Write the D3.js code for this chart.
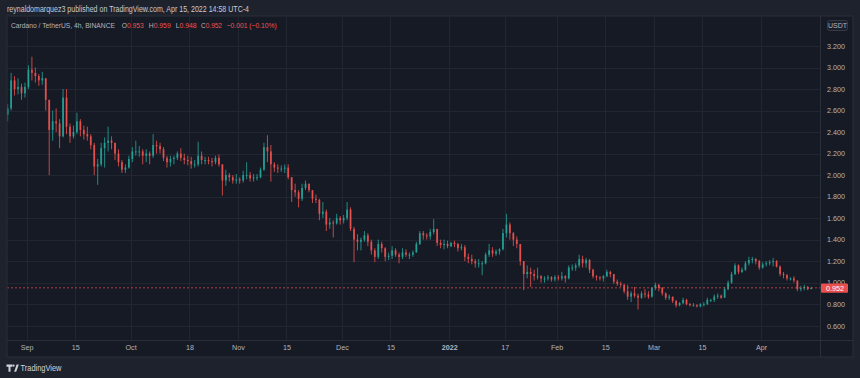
<!DOCTYPE html>
<html><head><meta charset="utf-8">
<script src="https://cdn.jsdelivr.net/npm/d3@7"></script>
<style>
html,body{margin:0;padding:0;background:#1e222d;}
svg{display:block;}
text{font-family:"Liberation Sans",Arial,sans-serif;}
</style></head><body>
<svg id="c" width="860" height="378"></svg>
<script>
// ---------- DATA (daily candles; open = previous close) ----------
const startDate = "2021-08-26";
const firstOpen = 2.56;
const highs = [
 2.66,2.95,2.92,2.90,2.85,2.86,
 3.02,3.10,3.00,2.94,2.96,2.90,2.70,2.60,2.62,2.52,2.80,2.80,2.48,2.46,2.58,2.52,2.46,2.45,2.38,2.30,2.15,2.30,2.35,2.45,2.36,2.30,2.24,2.14,2.10,2.18,
 2.26,2.32,2.27,2.24,2.24,2.22,2.38,2.32,2.30,2.26,2.18,2.18,2.18,2.22,2.25,2.20,2.18,2.17,2.14,2.31,2.22,2.17,2.17,2.16,2.18,2.19,2.10,2.05,2.02,2.00,2.01,
 1.98,2.04,2.12,2.03,2.01,2.01,2.07,2.30,2.37,2.28,2.12,2.10,2.09,2.10,2.10,1.98,1.92,1.86,1.92,1.95,1.92,1.86,1.82,1.78,1.75,1.68,1.60,1.58,1.64,1.62,
 1.63,1.75,1.70,1.52,1.45,1.42,1.48,1.46,1.40,1.32,1.40,1.38,1.33,1.28,1.34,1.32,1.28,1.32,1.31,1.28,1.30,1.38,1.48,1.48,1.46,1.50,1.59,1.50,1.40,1.40,1.39,
 1.38,1.39,1.37,1.36,1.35,1.27,1.26,1.22,1.22,1.20,1.28,1.36,1.33,1.31,1.32,1.50,1.64,1.56,1.47,1.43,1.36,1.20,1.16,1.14,1.12,1.14,1.07,1.06,1.07,1.06,1.07,
 1.07,1.10,1.07,1.16,1.17,1.18,1.26,1.25,1.23,1.22,1.13,1.07,1.06,1.07,1.12,1.11,1.08,1.03,1.01,0.99,0.98,0.92,0.96,0.90,0.92,0.94,0.92,0.96,
 1.00,0.99,0.96,0.91,0.89,0.87,0.84,0.82,0.86,0.85,0.81,0.81,0.80,0.81,0.82,0.86,0.85,0.89,0.90,0.89,0.96,1.02,1.10,1.18,1.17,1.14,1.20,1.24,1.24,1.23,1.21,
 1.19,1.20,1.21,1.23,1.21,1.16,1.10,1.08,1.05,1.06,1.02,0.97,0.98,0.97,0.959
];
const lows = [
 2.50,2.60,2.74,2.75,2.70,2.72,
 2.80,2.88,2.86,2.83,2.84,2.60,2.00,2.32,2.40,2.25,2.35,2.38,2.30,2.34,2.38,2.36,2.33,2.32,2.24,2.00,1.91,2.08,2.07,2.22,2.24,2.14,2.08,2.02,2.02,2.06,
 2.12,2.18,2.17,2.10,2.12,2.10,2.16,2.20,2.20,2.13,2.07,2.08,2.10,2.14,2.13,2.10,2.09,2.06,2.07,2.08,2.10,2.10,2.10,2.08,2.10,2.08,1.81,1.90,1.94,1.92,1.92,
 1.92,1.93,1.96,1.94,1.94,1.95,1.97,2.04,2.12,1.94,2.03,2.02,2.03,2.02,1.96,1.75,1.80,1.70,1.76,1.86,1.84,1.74,1.74,1.58,1.60,1.48,1.50,1.42,1.54,1.54,
 1.55,1.58,1.48,1.19,1.30,1.30,1.38,1.34,1.26,1.19,1.22,1.28,1.20,1.21,1.22,1.24,1.18,1.22,1.24,1.22,1.24,1.28,1.35,1.40,1.40,1.40,1.45,1.34,1.32,1.31,1.32,
 1.33,1.33,1.29,1.30,1.20,1.18,1.17,1.14,1.14,1.07,1.17,1.24,1.24,1.25,1.26,1.30,1.42,1.40,1.34,1.32,1.16,0.93,1.04,0.96,1.02,1.03,1.00,1.00,1.02,1.01,1.01,
 1.02,1.02,1.00,1.03,1.11,1.11,1.14,1.14,1.14,1.09,1.04,1.02,1.02,1.01,1.05,1.05,0.99,0.97,0.96,0.90,0.84,0.82,0.86,0.75,0.85,0.86,0.85,0.86,
 0.93,0.92,0.88,0.84,0.84,0.81,0.77,0.78,0.80,0.79,0.78,0.78,0.77,0.77,0.78,0.79,0.82,0.82,0.85,0.85,0.86,0.93,0.99,1.07,1.08,1.09,1.11,1.16,1.18,1.17,1.12,
 1.13,1.15,1.16,1.15,1.14,1.06,1.04,1.02,1.02,1.00,0.92,0.92,0.93,0.93,0.940
];
const closes = [
 2.62,2.88,2.80,2.82,2.76,2.82,
 2.98,2.95,2.92,2.88,2.90,2.70,2.42,2.50,2.48,2.36,2.72,2.45,2.36,2.40,2.50,2.42,2.38,2.36,2.28,2.08,2.10,2.25,2.30,2.32,2.30,2.20,2.12,2.05,2.07,2.15,
 2.22,2.22,2.22,2.18,2.20,2.18,2.28,2.27,2.24,2.16,2.12,2.15,2.16,2.20,2.16,2.14,2.13,2.10,2.10,2.18,2.14,2.14,2.13,2.12,2.16,2.10,1.95,2.00,1.98,1.95,1.96,
 1.95,2.00,2.00,1.97,1.98,1.98,2.05,2.26,2.22,2.10,2.07,2.06,2.06,2.07,1.98,1.86,1.84,1.78,1.88,1.92,1.86,1.78,1.77,1.64,1.66,1.54,1.56,1.55,1.60,1.58,
 1.60,1.68,1.50,1.40,1.38,1.40,1.44,1.38,1.30,1.24,1.36,1.32,1.24,1.25,1.30,1.26,1.24,1.28,1.26,1.26,1.28,1.36,1.46,1.44,1.43,1.47,1.50,1.37,1.35,1.36,1.34,
 1.37,1.36,1.32,1.33,1.24,1.22,1.20,1.18,1.18,1.18,1.26,1.30,1.27,1.29,1.31,1.46,1.54,1.46,1.40,1.36,1.20,1.08,1.10,1.08,1.06,1.06,1.04,1.04,1.05,1.03,1.05,
 1.04,1.06,1.04,1.14,1.14,1.16,1.22,1.18,1.21,1.12,1.06,1.05,1.04,1.06,1.10,1.08,1.01,0.99,0.98,0.92,0.87,0.90,0.88,0.86,0.90,0.89,0.87,0.95,
 0.98,0.95,0.90,0.86,0.87,0.83,0.79,0.81,0.84,0.80,0.79,0.79,0.78,0.80,0.80,0.84,0.84,0.87,0.88,0.86,0.94,1.00,1.08,1.16,1.10,1.12,1.18,1.21,1.22,1.20,1.14,
 1.17,1.18,1.19,1.20,1.15,1.08,1.07,1.04,1.04,1.02,0.94,0.95,0.96,0.94,0.952
];
const priceTicks = [0.6,0.8,1.0,1.2,1.4,1.6,1.8,2.0,2.2,2.4,2.6,2.8,3.0,3.2];
const timeTickDates = ["2021-09-01","2021-09-15","2021-10-01","2021-10-18","2021-11-01","2021-11-15","2021-12-01","2021-12-15","2022-01-01","2022-01-17","2022-02-01","2022-02-15","2022-03-01","2022-03-15","2022-04-01"];
const timeTickLabels = ["Sep","15","Oct","18","Nov","15","Dec","15","2022","17","Feb","15","Mar","15","Apr"];
const lastO = 0.953, lastH = 0.959, lastL = 0.948, lastC = 0.952, lastChg = -0.001, lastPct = -0.10;
const headerText = "reynaldomarquez3 published on TradingView.com, Apr 15, 2022 14:58 UTC-4";
const symbolText = "Cardano / TetherUS, 4h, BINANCE";

// ---------- LAYOUT ----------
const W = 860, H = 378;
const P = {x0: 7, x1: 820.5, y0: 16, y1: 340, right: 853, bottom: 357};
const UP = "#26a69a", DOWN = "#ef5350";
const AXIS_TXT = "#b2b5be";

const parse = d3.utcParse("%Y-%m-%d");
const x = d3.scaleUtc().domain([parse("2021-09-01"), parse("2022-04-01")]).range([26.7, 761]);
const y = d3.scaleLinear().domain([0.6, 3.2]).range([325.7, 46]);

const start = parse(startDate);
const candles = closes.map((c, i) => ({
  t: d3.utcHour.offset(d3.utcDay.offset(start, i), 12),
  o: i === 0 ? firstOpen : closes[i - 1],
  h: highs[i], l: lows[i], c
}));

const svg = d3.select("#c");
svg.append("rect").attr("width", W).attr("height", H).attr("fill", "#1e222d");

// header
svg.append("text").attr("x", 7).attr("y", 12).attr("font-size", 8.5).attr("fill", "#c9ccd4")
  .attr("textLength", 242).attr("lengthAdjust", "spacingAndGlyphs").text(headerText);

// panel
svg.append("rect").attr("x", P.x0).attr("y", P.y0).attr("width", P.right - P.x0).attr("height", P.bottom - P.y0)
  .attr("fill", "#161a25").attr("stroke", "#2a2e39").attr("stroke-width", 1);

const defs = svg.append("defs");
defs.append("clipPath").attr("id", "plotclip").append("rect")
  .attr("x", P.x0 + 0.5).attr("y", P.y0 + 0.5).attr("width", P.x1 - P.x0 - 0.5).attr("height", P.y1 - P.y0 - 0.5);

// grid
const grid = svg.append("g").attr("stroke", "#222633").attr("stroke-width", 1).attr("shape-rendering", "crispEdges");
grid.selectAll("line.h").data(priceTicks).join("line").attr("class", "h")
  .attr("x1", P.x0).attr("x2", P.x1).attr("y1", d => Math.round(y(d)) + 0.5).attr("y2", d => Math.round(y(d)) + 0.5);
grid.selectAll("line.v").data(timeTickDates).join("line").attr("class", "v")
  .attr("x1", d => Math.round(x(parse(d))) + 0.5).attr("x2", d => Math.round(x(parse(d))) + 0.5)
  .attr("y1", P.y0).attr("y2", P.y1);

// separators
svg.append("line").attr("x1", P.x1).attr("x2", P.x1).attr("y1", P.y0).attr("y2", P.bottom).attr("stroke", "#2a2e39");
svg.append("line").attr("x1", P.x0).attr("x2", P.right).attr("y1", P.y1 + 0.5).attr("y2", P.y1 + 0.5).attr("stroke", "#2a2e39");

// candles
const cg = svg.append("g").attr("clip-path", "url(#plotclip)");
const bw = 1.8;
cg.selectAll("line.wick").data(candles).join("line").attr("class", "wick")
  .attr("x1", d => x(d.t)).attr("x2", d => x(d.t))
  .attr("y1", d => y(d.h)).attr("y2", d => y(d.l))
  .attr("stroke", d => d.c >= d.o ? UP : DOWN).attr("stroke-width", 1).attr("opacity", 0.8);
cg.selectAll("rect.body").data(candles).join("rect").attr("class", "body")
  .attr("x", d => x(d.t) - bw / 2).attr("width", bw)
  .attr("y", d => y(Math.max(d.o, d.c)))
  .attr("height", d => Math.max(1, Math.abs(y(d.o) - y(d.c))))
  .attr("fill", d => d.c >= d.o ? UP : DOWN).attr("opacity", 0.85);

// last price line
cg.append("line").attr("x1", P.x0).attr("x2", P.x1).attr("y1", y(lastC)).attr("y2", y(lastC))
  .attr("stroke", DOWN).attr("stroke-width", 1).attr("stroke-dasharray", "2,2").attr("opacity", 0.7);

// price axis
const yAxis = d3.axisRight(y).tickValues(priceTicks).tickSize(0).tickPadding(0).tickFormat(d3.format(".3f"));
const gy = svg.append("g").attr("transform", `translate(${827},0)`).call(yAxis);
gy.select(".domain").remove();
gy.selectAll("text").attr("fill", AXIS_TXT).attr("font-size", 7.2).attr("font-family", "Liberation Sans, Arial, sans-serif");

// time axis
const xAxis = d3.axisBottom(x).tickValues(timeTickDates.map(parse)).tickSize(0).tickPadding(0)
  .tickFormat((d, i) => timeTickLabels[i]);
const gx = svg.append("g").attr("transform", `translate(0,${345})`).call(xAxis);
gx.select(".domain").remove();
gx.selectAll("text").attr("fill", AXIS_TXT).attr("font-size", 7.2).attr("font-family", "Liberation Sans, Arial, sans-serif")
  .attr("font-weight", (d, i) => timeTickLabels[i] === "2022" ? "bold" : null);

// last price label (covers the lower half of the 1.000 tick, as in the reference)
const ly = y(lastC);
svg.append("rect").attr("x", 821).attr("y", ly - 4.3).attr("width", 27).attr("height", 9.2).attr("rx", 1).attr("fill", "#e94f4c");
svg.append("text").attr("x", 826).attr("y", ly + 2.7).attr("font-size", 7.2).attr("fill", "#ffffff").text(d3.format(".3f")(lastC));

// USDT badge
svg.append("rect").attr("x", 827.5).attr("y", 20.5).attr("width", 20).attr("height", 10).attr("rx", 2)
  .attr("fill", "#1b1f2b").attr("stroke", "#363a45");
svg.append("text").attr("x", 837.5).attr("y", 28.2).attr("text-anchor", "middle").attr("font-size", 7)
  .attr("fill", AXIS_TXT).text("USDT");

// legend
svg.append("text").attr("x", 11).attr("y", 28).attr("font-size", 6.9).attr("fill", AXIS_TXT)
  .attr("textLength", 104).attr("lengthAdjust", "spacingAndGlyphs").text(symbolText);
const f3 = d3.format(".3f");
const vals = [["O", lastO, 121.7], ["H", lastH, 148.7], ["L", lastL, 175.7], ["C", lastC, 201]];
vals.forEach(([k, v, px]) => {
  const t = svg.append("text").attr("x", px).attr("y", 28).attr("font-size", 7.2)
    .attr("textLength", k === "L" || k === "C" ? 21 : 22).attr("lengthAdjust", "spacingAndGlyphs");
  t.append("tspan").attr("fill", AXIS_TXT).text(k);
  t.append("tspan").attr("fill", DOWN).text(f3(v));
});
svg.append("text").attr("x", 226.7).attr("y", 28).attr("font-size", 7.4).attr("fill", DOWN)
  .attr("textLength", 50).attr("lengthAdjust", "spacingAndGlyphs")
  .text(`\u2212${f3(Math.abs(lastChg))} (\u2212${Math.abs(lastPct).toFixed(2)}%)`);

// footer logo
const logo = svg.append("g").attr("fill", "#d1d4dc");
logo.append("path").attr("d", "M6.5 364.5 h6 v2.2 h-2 v5 h-2 v-5 h-2 z");
logo.append("circle").attr("cx", 13.6).attr("cy", 365.6).attr("r", 1.1);
logo.append("path").attr("d", "M14.2 371.7 l2.4 -7.2 h2.2 l-2.6 7.2 z");
svg.append("text").attr("x", 20.5).attr("y", 371.3).attr("font-size", 8.2).attr("fill", "#d1d4dc")
  .attr("textLength", 41).attr("lengthAdjust", "spacingAndGlyphs").text("TradingView");
</script>
</body></html>
